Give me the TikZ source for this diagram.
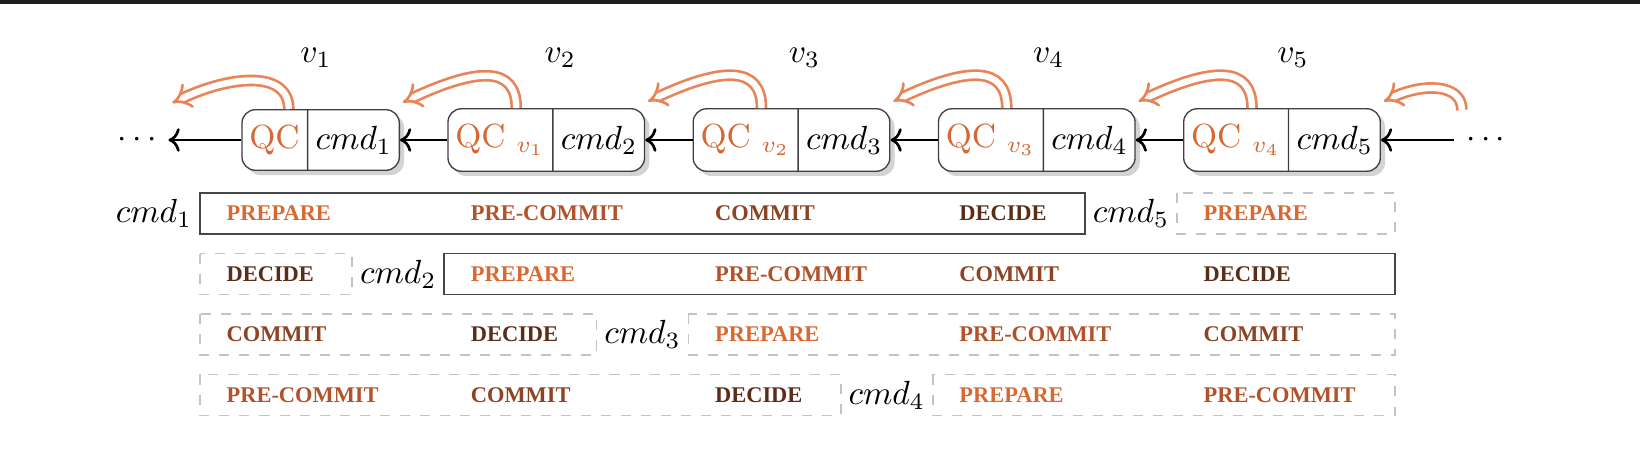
\documentclass[tikz,border=0pt]{standalone}
\usepackage{fontspec}
\newfontfamily\phasefont{Liberation Serif}
\usepackage{xcolor}
\definecolor{qcorange}{RGB}{214,104,52}
\definecolor{arroworange}{RGB}{232,132,88}
\definecolor{phase0}{RGB}{215,105,50}
\definecolor{phase1}{RGB}{178,82,42}
\definecolor{phase2}{RGB}{140,68,36}
\definecolor{phase3}{RGB}{90,45,25}
\definecolor{boxgray}{RGB}{70,70,70}
\definecolor{dashgray}{RGB}{195,195,195}
\definecolor{topbar}{RGB}{30,30,30}
\usepackage{tikz}
\usetikzlibrary{shapes.multipart, shadows, arrows.meta, calc}
\tikzstyle{block} = [
    rectangle split, rectangle split horizontal,
    rectangle split parts=2,
    draw=black!75, fill=white,
    rounded corners=4pt,
    inner xsep=2.2pt, inner ysep=0.16cm,
    drop shadow={shadow xshift=0.5mm, shadow yshift=-0.5mm, opacity=0.35},
]
\tikzstyle{qcarrow} = [
    draw=arroworange,
    double=white,
    double distance=1.9pt,
    line width=0.8pt,
    -{Implies},
]
\tikzstyle{arrow} = [->, thick]
\tikzstyle{phase} = [
    anchor=west, inner sep=0pt,
    font=\phasefont\bfseries\fontsize{6.7}{8}\selectfont,
]
\tikzstyle{cmdbox} = [draw=boxgray, line width=0.5pt]
\tikzstyle{otherbox} = [draw=dashgray, dashed, line width=0.5pt]
\newcommand{\phasename}[1]{\ifcase#1 PREPARE\or PRE-COMMIT\or COMMIT\or DECIDE\fi}

\begin{document}
\begin{tikzpicture}
    \useasboundingbox (0,0) rectangle (17.22,-4.746);
    \fill[topbar] (0,0) rectangle (17.22,-0.042);

    % blocks
    \node[block, anchor=east] (qc1) at (4.2,-1.47)
        {\textcolor{qcorange}{QC} \nodepart{two} $cmd_1$};
    \foreach \x [evaluate=\x as \p using int(\x-1)] in {2,...,5} {
        \node[block, anchor=east] (qc\x) at (4.2+2.575*\p,-1.47)
            {\textcolor{qcorange}{QC $_{v_{\p}}$} \nodepart{two} $cmd_{\x}$};
    }
    \foreach \x in {1,...,5} {
        \node (v\x) at (3.318+2.5646*\x-2.5646,-0.61) {$v_{\x}$};
    }
    \node (ldots) at (1.44,-1.47) {$\cdots$};
    \node (rdots) at (15.6,-1.47) {$\cdots$};
    \coordinate (lout) at (1.81,-1.08);
    \coordinate (rin) at (15.35,-1.155);

    % arrows
    \draw [arrow] (qc1.west) to (ldots);
    \draw [arrow] (rdots) to (qc5.east);
    \foreach \x [evaluate=\x as \p using int(\x-1)] in {2,...,5} {
        \draw [arrow] (qc\x.west) to (qc\p.east);
        \draw [qcarrow] ([xshift=0.17cm]qc\x.one north)
            .. controls +(90:0.45) and +(25:0.85) .. ([shift={(0.03,0.07)}]qc\p.north east);
    }
    \draw [qcarrow] ([xshift=0.15cm]qc1.one north)
        .. controls +(90:0.4) and +(25:0.7) .. (lout);
    \draw [qcarrow] (rin)
        .. controls +(90:0.28) and +(25:0.45) .. ([shift={(0.03,0.07)}]qc5.north east);

    % phase rows
    \draw [cmdbox] (2.1,-2.027) rectangle (11.392,-2.457);
    \draw [otherbox] (12.358,-2.027) rectangle (14.648,-2.457);
    \node (cmdlab1) at (1.617,-2.242) {$cmd_1$};
    \node (cmdlab5) at (11.875,-2.242) {$cmd_5$};

    \draw [otherbox] (2.1,-2.662) rectangle (3.699,-3.092);
    \draw [cmdbox] (4.665,-2.662) rectangle (14.648,-3.092);
    \node (cmdlab2) at (4.182,-2.877) {$cmd_2$};

    \draw [otherbox] (2.1,-3.297) rectangle (6.263,-3.727);
    \draw [otherbox] (7.229,-3.297) rectangle (14.648,-3.727);
    \node (cmdlab3) at (6.746,-3.512) {$cmd_3$};

    \draw [otherbox] (2.1,-3.932) rectangle (8.828,-4.362);
    \draw [otherbox] (9.794,-3.932) rectangle (14.648,-4.362);
    \node (cmdlab4) at (9.311,-4.147) {$cmd_4$};

    \foreach \r in {1,...,4} {
        \foreach \j in {0,...,4} {
            \pgfmathtruncatemacro{\p}{mod(\j-\r+5,4)}
            \node [phase, text=phase\p] (ph\r\j) at (2.373+2.5646*\j,-2.242-0.635*\r+0.635)
                {\phasename{\p}};
        }
    }
\end{tikzpicture}
\end{document}
